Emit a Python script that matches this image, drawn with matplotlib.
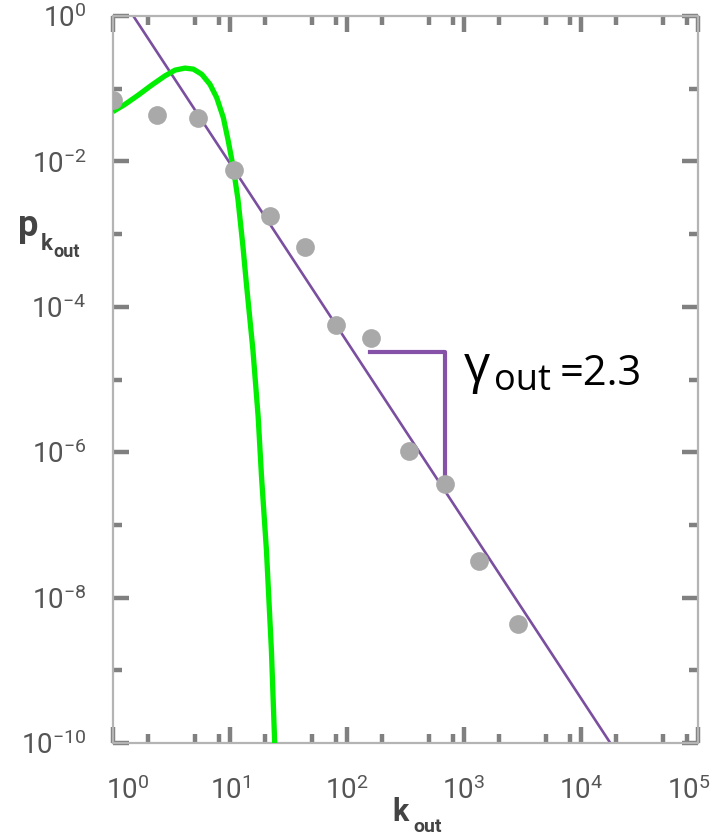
import matplotlib
matplotlib.use("Agg")
import matplotlib.pyplot as plt
import matplotlib.transforms as mtransforms
import numpy as np

plt.rcParams['font.family'] = ['Roboto', 'DejaVu Sans']
plt.rcParams['mathtext.fontset'] = 'custom'
plt.rcParams['mathtext.rm'] = 'Roboto'
plt.rcParams['mathtext.it'] = 'Roboto:italic'
plt.rcParams['mathtext.bf'] = 'Roboto:bold'

# measured out-degree distribution (gray dots)
k_data = [1.0, 2.4, 5.3, 10.8, 22, 44, 80, 160, 340, 690, 1340, 2890]
p_data = [0.069, 0.044, 0.039, 0.0077, 1.8e-3, 6.7e-4, 5.6e-5, 3.7e-5,
          1.03e-6, 3.6e-7, 3.2e-8, 4.3e-9]

# random-network (Poisson) prediction
k_poisson = [1.0, 1.27, 1.65, 2.14, 2.78, 3.39, 4.12, 4.86, 5.73, 6.74,
             7.69, 8.77, 9.67, 10.67, 11.7, 12.9, 13.8, 15.7, 17.4, 18.6,
             20.5, 22.6, 24.1]
p_poisson = [0.0485, 0.0611, 0.082, 0.112, 0.150, 0.180, 0.192, 0.186,
             0.158, 0.115, 0.0756, 0.040, 0.019, 0.0082, 0.0030, 6.8e-4,
             2.1e-4, 2.55e-5, 3.1e-6, 4.6e-7, 4.4e-8, 1.86e-9, 1.0e-10]

# power-law fit line end points
k_fit = [1.4, 17800]
p_fit = [1.17, 1.0e-10]

# slope triangle corners
k_tri = [156, 693, 693]
p_tri = [2.4e-5, 2.4e-5, 4.5e-7]

x_major = [1, 10, 100, 1000, 10000, 100000]
x_labels = [r'$\mathregular{10^{%d}}$' % i for i in range(6)]
y_major = [1e-10, 1e-8, 1e-6, 1e-4, 1e-2, 1]
y_labels = [r'$\mathregular{10^{%d}}$' % i for i in [-10, -8, -6, -4, -2, 0]]

W, H = 715, 838
fig = plt.figure(figsize=(W / 100, H / 100), dpi=100)
ax = fig.add_axes([113 / W, 1 - 743 / H, (698 - 113) / W, (743 - 16) / H])
ax.set_xscale('log')
ax.set_yscale('log')
ax.set_xlim(1, 1e5)
ax.set_ylim(1e-10, 1)

ax.plot(k_fit, p_fit, color='#7b4fa0', lw=1.9, zorder=2)
ax.plot(k_poisson, p_poisson, color='#00ee00', lw=3.8, zorder=3,
        solid_capstyle='butt', solid_joinstyle='round')
ax.plot(k_data, p_data, 'o', color='#a9a9a9', ms=13.5, mec='none', zorder=4)
ax.plot(k_tri, p_tri, color='#8652a8', lw=3, zorder=2)

# ticks
x_minor = [m * 10 ** d for d in range(5) for m in (2, 5, 8)]
y_minor = [10.0 ** e for e in (-1, -3, -5, -7, -9)]
ax.set_xticks(x_major)
ax.set_xticklabels(x_labels)
ax.set_xticks(x_minor, minor=True)
ax.set_xticklabels([], minor=True)
ax.set_yticks(y_major)
ax.set_yticklabels(y_labels)
ax.set_yticks(y_minor, minor=True)
ax.set_yticklabels([], minor=True)
ax.tick_params(which='both', direction='in', top=True, right=True,
               color='#808080', width=3.2, labelsize=20, labelcolor='#555555')
ax.tick_params(which='major', length=11.5, pad=19)
ax.tick_params(axis='x', which='major', pad=24)
ax.tick_params(which='minor', length=6.5)

xl = ax.get_xticklabels()
xl[0].set_transform(xl[0].get_transform() +
                    mtransforms.ScaledTranslation(0.15, 0, fig.dpi_scale_trans))
xl[-1].set_transform(xl[-1].get_transform() +
                     mtransforms.ScaledTranslation(-0.09, 0, fig.dpi_scale_trans))

for s in ax.spines.values():
    s.set_color('#b4b4b4')
    s.set_linewidth(1.6)


def ptext(x, y, s, **kw):
    fig.text(x / W, 1 - y / H, s, **kw)


# axis labels
ptext(18, 236, 'p', fontsize=26, fontweight='bold', color='#444444',
      va='baseline')
ptext(41, 250, 'k', fontsize=16, fontweight='bold', color='#444444',
      va='baseline')
ptext(53, 257, 'out', fontsize=13, fontweight='bold', color='#444444',
      va='baseline')
ptext(392, 821, 'k', fontsize=22, fontweight='bold', color='#444444',
      va='baseline')
ptext(413, 832, 'out', fontsize=14, fontweight='bold', color='#444444',
      va='baseline')

# exponent annotation
ptext(464, 382, 'γ', fontsize=37, family='Open Sans', color='black',
      va='baseline')
ptext(494, 390, 'out', fontsize=26, family='Open Sans', color='black',
      va='baseline')
ptext(560, 385, '=2.3', fontsize=30, family='Open Sans', color='black',
      va='baseline')

fig.savefig('out.png', dpi=100)
